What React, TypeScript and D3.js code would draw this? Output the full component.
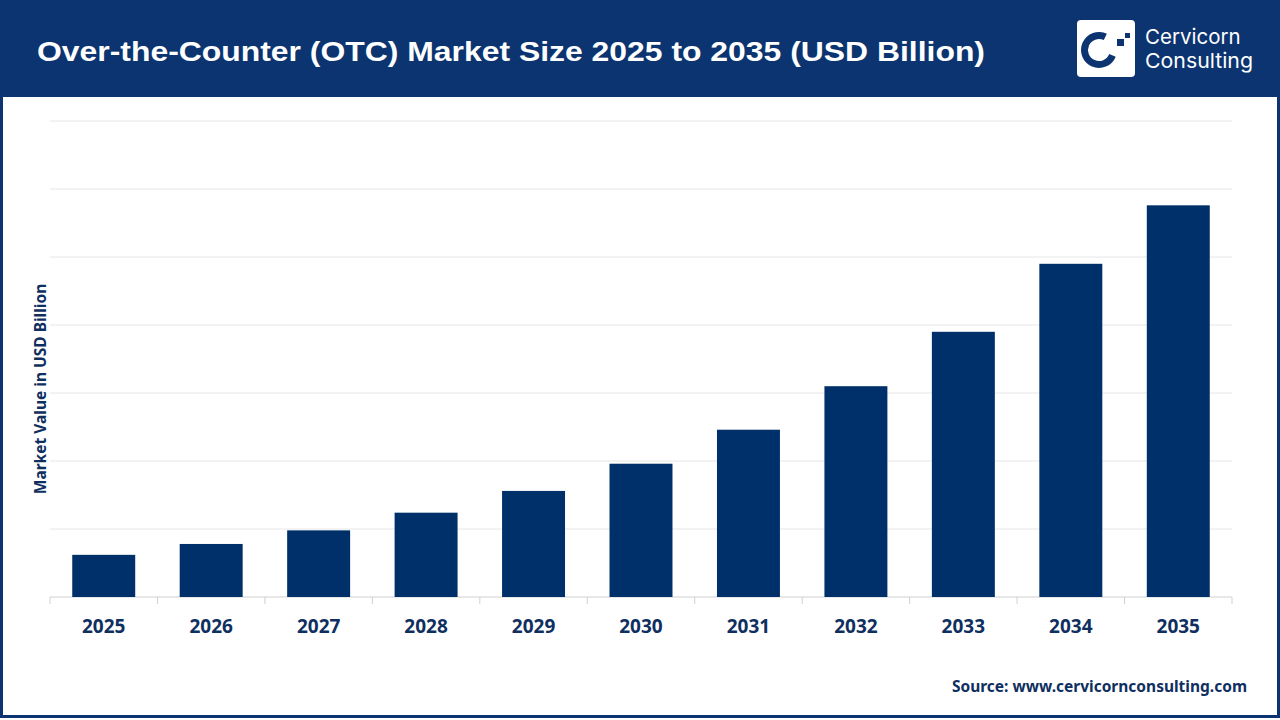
import React from "react";
import * as d3 from "d3";

const years = ["2025","2026","2027","2028","2029","2030","2031","2032","2033","2034","2035"];
const values = [31, 39, 49, 62, 78, 98, 123, 155, 195, 245, 288];
const gridTicks = [0, 50, 100, 150, 200, 250, 300, 350];

const titleText = "Over-the-Counter (OTC) Market Size 2025 to 2035 (USD Billion)";
const yLabel = "Market Value in USD Billion";
const sourceText = "Source: www.cervicornconsulting.com";

const W = 1280, H = 720;
const navy = "#0b3470";
const barColor = "#003069";
const textNavy = "#0f2f5f";

export default function App() {
  const left = 50, right = 1232, top = 121, bottom = 597;
  const x = d3.scaleBand<string>().domain(years).range([left, right]).padding(0);
  const y = d3.scaleLinear().domain([0, 350]).range([bottom, top]);
  const bw = x.bandwidth() * 0.586;
  const arc = d3.arc<any>();
  const ring = arc({ innerRadius: 11, outerRadius: 18, startAngle: 1.95, endAngle: 2 * Math.PI + 0.45 }) as string;
  const bounds = years.map((yr) => x(yr)!).concat([right]);
  return (
    <div style={{ position: "fixed", left: 0, top: 0 }}>
      <svg width={W} height={H} style={{ display: "block" }}>
        <rect x={0} y={0} width={W} height={H} fill="#fff" />
        <rect x={0} y={0} width={W} height={97} fill={navy} />
        <rect x={1.5} y={1.5} width={W - 3} height={H - 5} fill="none" stroke={navy} strokeWidth={3} />
        <text x={37} y={61} fill="#fff" fontFamily="Liberation Sans, Arial, sans-serif" fontWeight="bold" fontSize={28} textLength={948} lengthAdjust="spacingAndGlyphs">{titleText}</text>
        {/* logo */}
        <rect x={1077} y={20} width={58} height={57} rx={4} fill="#fff" />
        <path d={ring} transform="translate(1099,50)" fill={navy} />
        <rect x={1117} y={39} width={7} height={7} fill={navy} />
        <rect x={1125} y={33} width={5} height={5} fill={navy} />
        <text x={1145} y={44} fill="#fff" fontFamily="Inter, sans-serif" fontSize={20.5}>Cervicorn</text>
        <text x={1145} y={68} fill="#fff" fontFamily="Inter, sans-serif" fontSize={20.5} textLength={108} lengthAdjust="spacingAndGlyphs">Consulting</text>
        {/* grid */}
        {gridTicks.map((t) => (
          <line key={t} x1={left} x2={right} y1={y(t)} y2={y(t)} stroke={t === 0 ? "#d0d0d0" : "#e6e6e6"} strokeWidth={1} />
        ))}
        {bounds.map((b, i) => (
          <line key={i} x1={b} x2={b} y1={bottom} y2={bottom + 7} stroke="#d0d0d0" strokeWidth={1} />
        ))}
        {years.map((yr, i) => (
          <rect key={yr} x={x(yr)! + (x.bandwidth() - bw) / 2} y={y(values[i])} width={bw} height={bottom - y(values[i])} fill={barColor} />
        ))}
        {years.map((yr) => (
          <text key={yr} x={x(yr)! + x.bandwidth() / 2} y={633} textAnchor="middle" fill={textNavy} fontFamily="Noto Sans, sans-serif" fontWeight="bold" fontSize={19}>{yr}</text>
        ))}
        <text transform="translate(46,389) rotate(-90)" textAnchor="middle" fill={textNavy} fontFamily="Noto Sans, sans-serif" fontWeight="bold" fontSize={15.5}>{yLabel}</text>
        <text x={1247} y={692} textAnchor="end" fill={textNavy} fontFamily="Noto Sans, sans-serif" fontWeight="bold" fontSize={15.5}>{sourceText}</text>
      </svg>
    </div>
  );
}
